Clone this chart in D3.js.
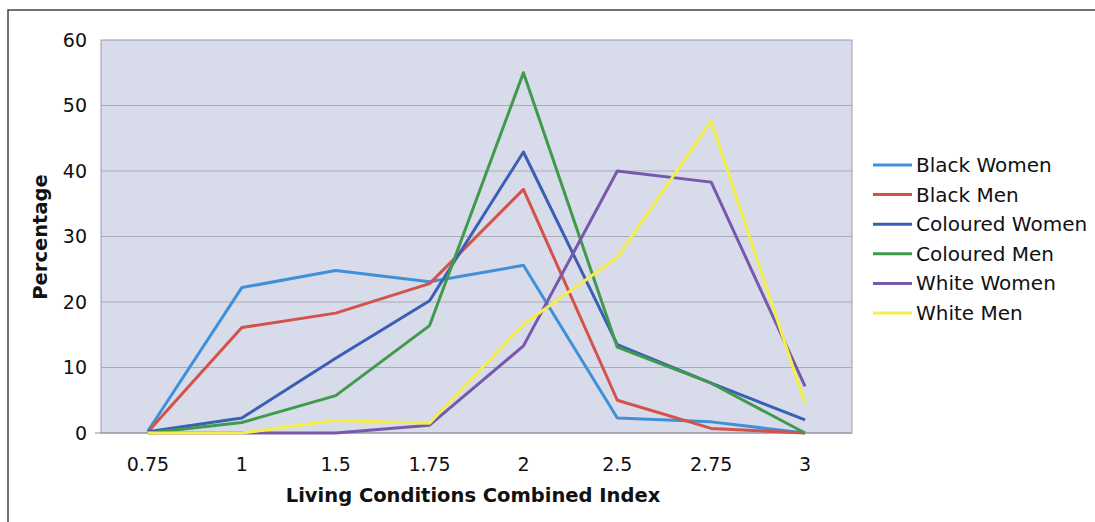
<html>
<script src='https://d3js.org/d3.v7.min.js'></script>
<body style="margin:0; background:#fff;">
<svg width=1095 height=522></svg>
<script>

var categories = ["0.75", "1", "1.5", "1.75", "2", "2.5", "2.75", "3"];
var yTicks = [0, 10, 20, 30, 40, 50, 60];

var seriesNames = ["Black Women", "Black Men", "Coloured Women", "Coloured Men", "White Women", "White Men"];
var blackWomen    = [0.3, 22.2, 24.8, 23.1, 25.6, 2.3, 1.7, 0];
var blackMen      = [0.2, 16.1, 18.3, 22.8, 37.2, 5.0, 0.7, 0];
var colouredWomen = [0.2, 2.3, 11.4, 20.2, 42.9, 13.5, 7.6, 2.0];
var colouredMen   = [0, 1.6, 5.7, 16.4, 55.0, 13.1, 7.6, 0];
var whiteWomen    = [0, 0, 0, 1.2, 13.3, 40.0, 38.3, 7.1];
var whiteMen      = [0, 0, 1.9, 1.5, 16.6, 26.8, 47.6, 4.5];

var colors = ["#4090d8", "#d4524a", "#3a5fb4", "#3f9a4c", "#7758ad", "#f4ee4c"];
var allSeries = [blackWomen, blackMen, colouredWomen, colouredMen, whiteWomen, whiteMen];

var svg = d3.select('svg');
var font = "'DejaVu Sans', Verdana, sans-serif";

// page frame
svg.append("path").attr("d", "M8,530 L8,10 L1100,10").attr("fill", "none").attr("stroke", "#444").attr("stroke-width", 1.5);

var plotL = 101, plotT = 40, plotR = 852, plotB = 433;

var x = d3.scalePoint().domain(categories).range([plotL, plotR]).padding(0.5);
var y = d3.scaleLinear().domain([0, 60]).range([plotB, plotT]);

svg.append("rect")
    .attr("x", plotL).attr("y", plotT)
    .attr("width", plotR - plotL).attr("height", plotB - plotT)
    .attr("fill", "#d8dbe9").attr("stroke", "#9a9cab");

svg.append("g").selectAll("line")
    .data(yTicks.slice(1, -1))
    .join("line")
    .attr("x1", plotL).attr("x2", plotR)
    .attr("y1", d => y(d)).attr("y2", d => y(d))
    .attr("stroke", "#a9abba").attr("stroke-width", 1);

svg.append("line").attr("x1", plotL - 6).attr("x2", plotR).attr("y1", plotB).attr("y2", plotB).attr("stroke", "#8d8f9c");

var line = d3.line()
    .x((d, i) => x(categories[i]))
    .y(d => y(d));

svg.append("g").selectAll("path")
    .data(allSeries)
    .join("path")
    .attr("d", d => line(d))
    .attr("fill", "none")
    .attr("stroke", (d, i) => colors[i])
    .attr("stroke-width", 3)
    .attr("stroke-linejoin", "round");

// y tick labels
svg.append("g").selectAll("text")
    .data(yTicks)
    .join("text")
    .attr("x", 87).attr("y", d => y(d))
    .attr("dy", "0.36em")
    .attr("text-anchor", "end")
    .attr("font-family", font).attr("font-size", 19).attr("fill", "#111")
    .text(d => d);

// x tick labels
svg.append("g").selectAll("text")
    .data(categories)
    .join("text")
    .attr("x", d => x(d)).attr("y", 471)
    .attr("text-anchor", "middle")
    .attr("font-family", font).attr("font-size", 19).attr("fill", "#111")
    .text(d => d);

svg.append("text")
    .attr("x", 473).attr("y", 502)
    .attr("text-anchor", "middle")
    .attr("font-family", font).attr("font-size", 19.5).attr("font-weight", "bold").attr("fill", "#111")
    .text("Living Conditions Combined Index");

svg.append("text")
    .attr("transform", "translate(47,237) rotate(-90)")
    .attr("text-anchor", "middle")
    .attr("font-family", font).attr("font-size", 19.5).attr("font-weight", "bold").attr("fill", "#111")
    .text("Percentage");

// legend
var legend = svg.append("g").selectAll("g")
    .data(seriesNames)
    .join("g")
    .attr("transform", (d, i) => "translate(873," + (165 + i * 29.6) + ")");

legend.append("line")
    .attr("x1", 0).attr("x2", 39)
    .attr("stroke", (d, i) => colors[i]).attr("stroke-width", 3);

legend.append("text")
    .attr("x", 43).attr("dy", "0.35em")
    .attr("font-family", font).attr("font-size", 20).attr("fill", "#111")
    .text(d => d);
</script>
</body>
</html>
